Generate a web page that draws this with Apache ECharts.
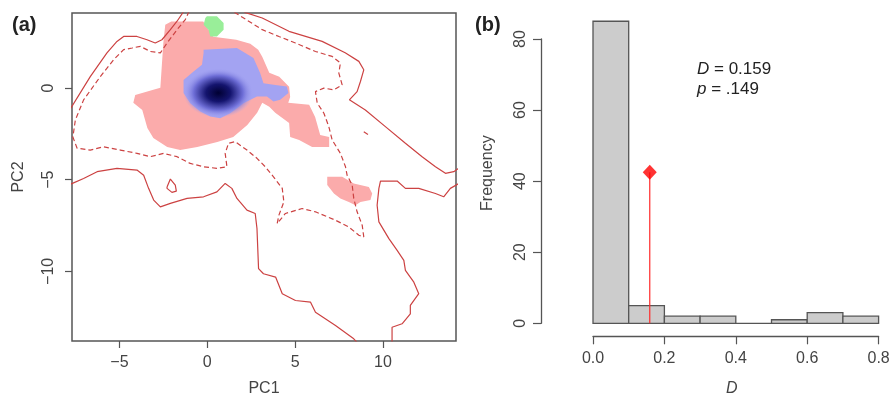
<!DOCTYPE html>
<html>
<head>
<meta charset="utf-8">
<script src="https://cdn.jsdelivr.net/npm/echarts@6/dist/echarts.min.js"></script>
<style>
html, body { margin: 0; padding: 0; background: #fff; }
#chart { width: 890px; height: 395px; }
</style>
</head>
<body>
<div id="chart"></div>
<script>
// ---- panel (a): niche space, PC1 x PC2 ----
var pcTicksX = [-5, 0, 5, 10];
var pcTicksY = [-10, -5, 0];

// solid contour (100% of available environment)
var solidTopLeft = [[-7.8,-1.15],[-6.66,0.63],[-5.71,1.92],[-5.14,2.55],[-4.76,2.82],[-4.00,2.82],[-3.43,2.64],[-2.96,2.46],[-2.58,2.64],[-2.10,3.19],[-1.72,3.65],[-1.33,4.2]];
var solidTopRight = [[2.1,4.15],[3.13,3.83],[4.65,3.10],[6.54,2.55],[7.85,1.93],[8.63,1.46],[8.91,1.00],[8.72,0.36],[8.53,-0.19],[8.09,-0.64],[9.00,-1.19],[10.14,-2.10],[11.28,-3.01],[12.23,-3.74],[12.99,-4.29],[13.56,-4.65],[14.03,-4.56],[14.3,-4.38]];
var solidBottomLeft = [[-7.8,-5.25],[-7.04,-4.93],[-6.27,-4.56],[-5.14,-4.38],[-4.00,-4.47],[-3.62,-4.75],[-3.34,-5.47],[-3.05,-6.11],[-2.67,-6.48],[-2.10,-6.29],[-1.15,-6.02],[-0.21,-5.93],[0.55,-5.66],[1.02,-5.20],[1.40,-5.47],[1.69,-6.02],[2.26,-6.66],[2.73,-6.84],[2.83,-7.66],[2.92,-9.85],[3.20,-10.13],[3.89,-10.31],[4.27,-11.22],[5.02,-11.59],[5.88,-11.68],[6.16,-12.23],[7.30,-12.96],[8.34,-13.68],[8.55,-13.9]];
var solidLoop = [[-2.29,-5.39],[-2.10,-4.96],[-1.82,-5.29],[-1.76,-5.62],[-2.01,-5.69],[-2.29,-5.47],[-2.29,-5.39]];
var solidBottomRight = [[10.52,-13.9],[10.52,-13.05],[11.09,-12.86],[11.56,-12.32],[11.56,-11.86],[12.04,-11.22],[11.76,-10.59],[11.28,-9.95],[11.19,-9.40],[10.81,-8.85],[10.34,-8.21],[9.77,-7.30],[9.67,-6.39],[9.77,-5.47],[9.86,-5.07],[10.81,-5.07],[11.28,-5.47],[12.04,-5.47],[12.99,-5.75],[13.46,-5.93],[13.84,-5.47],[14.3,-5.22]];

// dashed contour (50% of available environment)
var dashedMain = [[-1.03,4.2],[-1.25,3.74],[-1.72,3.19],[-2.29,2.46],[-2.67,1.92],[-3.24,2.00],[-3.81,2.28],[-4.28,2.19],[-4.76,2.10],[-5.33,1.55],[-6.09,0.63],[-7.04,-0.64],[-7.51,-1.74],[-7.65,-2.67],[-7.41,-3.28],[-6.66,-3.38],[-5.90,-3.20],[-4.95,-3.38],[-4.00,-3.56],[-3.24,-3.74],[-2.49,-3.56],[-1.72,-3.74],[-0.97,-4.11],[-0.21,-4.29],[0.55,-4.38],[1.12,-4.29],[1.02,-3.56],[1.21,-3.01],[1.59,-2.92],[2.26,-3.38],[2.83,-3.83],[3.30,-4.29],[3.77,-4.84],[4.27,-5.47],[4.36,-6.21],[4.08,-6.93],[3.98,-7.39],[4.45,-6.84],[5.40,-6.57],[6.16,-6.75],[7.30,-7.21],[8.06,-7.58],[8.63,-8.03],[8.91,-8.12],[8.82,-7.48],[8.53,-6.75],[8.34,-6.02],[8.25,-5.29],[7.96,-4.75],[7.87,-4.29],[7.58,-3.56],[7.11,-2.83],[6.92,-2.10],[6.64,-1.37],[6.26,-0.82],[6.16,-0.19],[6.64,0.00],[7.21,-0.09],[7.68,0.18],[7.49,0.82],[7.58,1.37],[7.11,1.73],[6.16,2.00],[5.02,2.46],[4.08,2.82],[3.13,3.19],[1.45,4.2]];
var dashedSpeck = [[8.91,-2.38],[9.20,-2.56]];

// occupied niche areas
var pinkMain = [[-2.39,3.46],[-2.05,3.63],[-0.23,3.63],[0.00,3.30],[0.34,2.81],[1.65,2.64],[2.45,2.42],[2.90,2.09],[3.13,1.71],[3.53,0.84],[4.10,0.62],[4.66,0.07],[4.72,-0.48],[4.61,-0.80],[5.80,-0.91],[6.14,-1.57],[6.43,-2.56],[6.94,-2.67],[6.94,-3.21],[5.97,-3.21],[5.23,-2.83],[4.72,-2.67],[4.66,-1.90],[3.87,-1.35],[3.53,-1.02],[3.13,-0.80],[2.84,-1.35],[2.28,-2.01],[1.48,-2.67],[0.57,-2.94],[-0.57,-3.21],[-1.54,-3.38],[-2.28,-3.21],[-3.07,-2.72],[-3.41,-2.17],[-3.70,-1.19],[-4.21,-0.80],[-4.10,-0.37],[-3.07,-0.09],[-2.67,0.02],[-2.50,2.48]];
var pinkIsland = [[6.83,-4.84],[7.68,-4.84],[8.34,-5.20],[9.20,-5.39],[9.39,-5.75],[9.29,-6.11],[8.72,-6.21],[8.44,-6.39],[8.06,-6.21],[7.58,-6.02],[7.21,-5.75],[6.83,-5.29]];
var blueZone = [[-0.21,2.10],[1.69,2.19],[2.63,1.64],[3.01,0.82],[3.20,0.27],[3.77,0.18],[4.53,0.09],[4.62,-0.27],[4.15,-0.64],[3.77,-0.73],[3.40,-0.46],[2.83,-0.46],[2.06,-0.82],[1.31,-1.37],[0.74,-1.64],[0.17,-1.55],[-0.40,-1.28],[-0.97,-0.82],[-1.35,-0.27],[-1.35,0.45],[-0.78,0.91],[-0.30,1.28],[-0.21,1.92]];
var greenCell = [[-0.02,3.92],[0.55,3.92],[0.93,3.56],[0.93,3.19],[0.55,2.82],[0.17,2.82],[0.07,3.19],[-0.21,3.46],[-0.11,3.83]];
var densityCentre = [0.63, -0.26];
var densitySpread = [2.0, 1.35];

// ---- panel (b): null distribution of D ----
var binEdges = [0, 0.1, 0.2, 0.3, 0.4, 0.5, 0.6, 0.7, 0.8];
var binCounts = [85, 5, 2, 2, 0, 1, 3, 2];
var observedD = 0.159;
var pValue = '.149';
var markerHeight = 42.5;

var FONT = '"Liberation Sans", Arial, sans-serif';
var AXIS_GREY = '#555';
var LABEL_GREY = '#444';
var CONTOUR = '#cc4242';

function minusFmt(v) {
    return v < 0 ? '\u2212' + (-v) : String(v);
}

function polygonSeries(points, color, z) {
    return {
        type: 'custom',
        xAxisIndex: 0,
        yAxisIndex: 0,
        z: z,
        silent: true,
        data: [[0, 0]],
        renderItem: function (params, api) {
            return {
                type: 'polygon',
                shape: { points: points.map(function (p) { return api.coord(p); }) },
                style: { fill: color }
            };
        }
    };
}

function contourSeries(points, dashed) {
    return {
        type: 'line',
        xAxisIndex: 0,
        yAxisIndex: 0,
        data: points,
        symbol: 'none',
        showSymbol: false,
        silent: true,
        z: 6,
        lineStyle: { color: CONTOUR, width: 1.2, type: dashed ? [5, 3] : 'solid' }
    };
}

var histData = binCounts.map(function (c, i) {
    return [binEdges[i], binEdges[i + 1], c];
});

var myChart = echarts.init(document.getElementById('chart'));
var option = {
    animation: false,
    textStyle: { fontFamily: FONT },
    grid: [
        { left: 72, top: 13, width: 384, height: 328, outerBoundsMode: 'none', show: true, borderColor: AXIS_GREY, borderWidth: 1.5, backgroundColor: 'transparent' },
        { left: 593, top: 39, width: 285.6, height: 284.3, outerBoundsMode: 'none', show: false }
    ],
    xAxis: [
        {
            gridIndex: 0, type: 'value', min: -7.7, max: 14.16,
            splitLine: { show: false },
            axisLine: { show: false, onZero: false },
            axisTick: { show: true, customValues: pcTicksX, length: 7, lineStyle: { color: AXIS_GREY, width: 1.2 } },
            axisLabel: { customValues: pcTicksX, formatter: minusFmt, fontSize: 16, color: LABEL_GREY, margin: 14 },
            name: 'PC1', nameLocation: 'middle', nameGap: 40,
            nameTextStyle: { fontSize: 16, color: LABEL_GREY }
        },
        {
            gridIndex: 1, type: 'value', min: 0, max: 0.8, interval: 0.2, offset: 13,
            splitLine: { show: false },
            axisLine: { show: true, onZero: false, lineStyle: { color: AXIS_GREY, width: 1.3 } },
            axisTick: { show: true, length: 8, lineStyle: { color: AXIS_GREY, width: 1.2 } },
            axisLabel: { formatter: function (v) { return v.toFixed(1); }, fontSize: 16, color: LABEL_GREY, margin: 14 },
            name: 'D', nameLocation: 'middle', nameGap: 44,
            nameTextStyle: { fontSize: 16, color: LABEL_GREY, fontStyle: 'italic', padding: [0, 8, 0, 0] }
        }
    ],
    yAxis: [
        {
            gridIndex: 0, type: 'value', min: -13.8, max: 4.1,
            splitLine: { show: false },
            axisLine: { show: false, onZero: false },
            axisTick: { show: true, customValues: pcTicksY, length: 7, lineStyle: { color: AXIS_GREY, width: 1.2 } },
            axisLabel: { customValues: pcTicksY, formatter: minusFmt, fontSize: 16, color: LABEL_GREY, margin: 15, rotate: 90 },
            name: 'PC2', nameLocation: 'middle', nameGap: 45,
            nameTextStyle: { fontSize: 16, color: LABEL_GREY }
        },
        {
            gridIndex: 1, type: 'value', min: 0, max: 80, interval: 20, offset: 52,
            splitLine: { show: false },
            axisLine: { show: true, onZero: false, lineStyle: { color: AXIS_GREY, width: 1.3 } },
            axisTick: { show: true, length: 8, lineStyle: { color: AXIS_GREY, width: 1.2 } },
            axisLabel: { fontSize: 16, color: LABEL_GREY, margin: 12, rotate: 90 },
            name: 'Frequency', nameLocation: 'middle', nameGap: 45,
            nameTextStyle: { fontSize: 16, color: LABEL_GREY, padding: [0, 0, 0, 16] }
        }
    ],
    graphic: [
        { type: 'text', left: 12, top: 15, style: { text: '(a)', font: 'bold 20px ' + FONT, fill: '#222' } },
        { type: 'text', left: 475, top: 15, style: { text: '(b)', font: 'bold 20px ' + FONT, fill: '#222' } },
        {
            type: 'text', left: 697, top: 61,
            style: {
                text: '{i|D}{n| = ' + observedD.toFixed(3) + '}\n{i|p}{n| = ' + pValue + '}',
                rich: {
                    i: { fontStyle: 'italic', fontSize: 17, fontFamily: FONT, lineHeight: 20, fill: '#222' },
                    n: { fontSize: 17, fontFamily: FONT, lineHeight: 20, fill: '#222' }
                }
            }
        }
    ],
    series: [
        polygonSeries(pinkMain, '#fbabab', 1),
        polygonSeries(pinkIsland, '#fbabab', 1),
        polygonSeries(blueZone, '#a3a3f2', 2),
        {
            type: 'custom', xAxisIndex: 0, yAxisIndex: 0, z: 3, silent: true,
            data: [densityCentre],
            renderItem: function (params, api) {
                var c = api.coord(densityCentre);
                var s = api.size(densitySpread);
                return {
                    type: 'circle',
                    x: c[0], y: c[1],
                    scaleX: s[0] / s[1],
                    shape: { cx: 0, cy: 0, r: s[1] },
                    style: {
                        fill: new echarts.graphic.RadialGradient(0.5, 0.5, 0.5, [
                            { offset: 0, color: 'rgb(0,0,50)' },
                            { offset: 0.35, color: 'rgb(20,20,110)' },
                            { offset: 0.7, color: 'rgb(110,110,215)' },
                            { offset: 1, color: 'rgba(163,163,242,0)' }
                        ])
                    }
                };
            }
        },
        polygonSeries(greenCell, '#99ee99', 4),
        contourSeries(solidTopLeft, false),
        contourSeries(solidTopRight, false),
        contourSeries(solidBottomLeft, false),
        contourSeries(solidLoop, false),
        contourSeries(solidBottomRight, false),
        contourSeries(dashedMain, true),
        contourSeries(dashedSpeck, true),
        {
            type: 'custom', xAxisIndex: 1, yAxisIndex: 1, silent: true,
            data: histData,
            encode: { x: [0, 1], y: 2 },
            renderItem: function (params, api) {
                var p0 = api.coord([api.value(0), 0]);
                var p1 = api.coord([api.value(1), api.value(2)]);
                return {
                    type: 'rect',
                    shape: { x: p0[0], y: p1[1], width: p1[0] - p0[0], height: p0[1] - p1[1] },
                    style: { fill: '#cccccc', stroke: '#555', lineWidth: 1.3 }
                };
            }
        },
        {
            type: 'line', xAxisIndex: 1, yAxisIndex: 1, silent: true, z: 5,
            data: [[observedD, 0], [observedD, markerHeight]],
            symbol: 'none',
            lineStyle: { color: '#ff2a2a', width: 1.2 }
        },
        {
            type: 'scatter', xAxisIndex: 1, yAxisIndex: 1, silent: true, z: 6,
            data: [[observedD, markerHeight]],
            symbol: 'diamond', symbolSize: [14, 15],
            itemStyle: { color: '#ff0000' }
        }
    ]
};
myChart.setOption(option);
</script>
</body>
</html>
